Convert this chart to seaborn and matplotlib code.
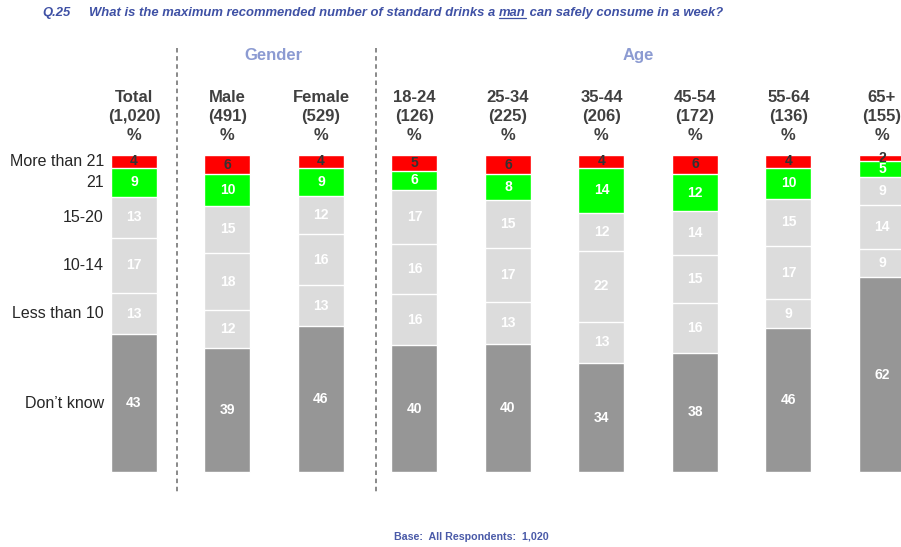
import numpy as np
import pandas as pd
import matplotlib
matplotlib.use("Agg")
import matplotlib.pyplot as plt
import seaborn as sns
from matplotlib.lines import Line2D
import matplotlib.transforms as mtrans

# ---------------- data ----------------
columns = ["Total", "Male", "Female", "18-24", "25-34", "35-44", "45-54", "55-64", "65+"]
bases = ["(1,020)", "(491)", "(529)", "(126)", "(225)", "(206)", "(172)", "(136)", "(155)"]
categories = ["More than 21", "21", "15-20", "10-14", "Less than 10", "Don\u2019t know"]
more_than_21 = [4, 6, 4, 5, 6, 4, 6, 4, 2]
twenty_one = [9, 10, 9, 6, 8, 14, 12, 10, 5]
fifteen_20 = [13, 15, 12, 17, 15, 12, 14, 15, 9]
ten_14 = [17, 18, 16, 16, 17, 22, 15, 17, 14]
less_than_10 = [13, 12, 13, 16, 13, 13, 16, 9, 9]
dont_know = [43, 39, 46, 40, 40, 34, 38, 46, 62]

series = [more_than_21, twenty_one, fifteen_20, ten_14, less_than_10, dont_know]
seg_colors = ["#ff0000", "#00ff00", "#dcdcdc", "#dcdcdc", "#dcdcdc", "#969696"]
txt_colors = ["#333333", "white", "white", "white", "white", "white"]

# ---------------- figure ----------------
W, H = 901, 547
sns.set_theme(style="white")
plt.rcParams["font.family"] = ["Liberation Sans", "DejaVu Sans"]
fig = plt.figure(figsize=(W / 100, H / 100), dpi=100)
fig.patch.set_facecolor("white")

x0_px, step_px = 134.0, 93.5
bar_top_px, bar_bot_px = 155.0, 472.0
ax = fig.add_axes([0, (H - bar_bot_px) / H, 1, (bar_bot_px - bar_top_px) / H])

vals = np.array(series, dtype=float)  # rows = categories (top to bottom)
totals = vals.sum(axis=0)
norm = vals / totals * 100.0
order_bottom_up = list(range(len(categories)))[::-1]
cum = np.zeros(len(columns))
lows, highs = {}, {}
for i in order_bottom_up:
    lows[i] = cum.copy()
    cum = cum + norm[i]
    highs[i] = cum.copy()

bar_w = 46.0 / step_px
for i in range(len(categories)):
    df = pd.DataFrame({"col": columns, "h": highs[i]})
    sns.barplot(data=df, x="col", y="h", order=columns, color=seg_colors[i],
                saturation=1, width=bar_w, edgecolor="white", linewidth=1,
                ax=ax, clip_on=False)
ax.set_xlim(-x0_px / step_px, (W - x0_px) / step_px)
ax.set_ylim(0, 100)
ax.axis("off")

# segment value labels
for i in range(len(categories)):
    for j in range(len(columns)):
        yc = (lows[i][j] + highs[i][j]) / 2
        ax.text(j, yc, f"{series[i][j]}", ha="center", va="center",
                fontsize=10, fontweight="bold", color=txt_colors[i])

# row labels aligned with Total segments
for i, cat in enumerate(categories):
    yc = (lows[i][0] + highs[i][0]) / 2
    ax.text((104 - x0_px) / step_px, yc, cat, ha="right", va="center",
            fontsize=11.5, color="#262626")

# headers
blend = mtrans.blended_transform_factory(ax.transData, fig.transFigure)
for j, (c, b) in enumerate(zip(columns, bases)):
    for line, ypx in zip([c, b, "%"], [98, 117, 136]):
        ax.text(j, 1 - ypx / H, line, transform=blend, ha="center", va="center",
                fontsize=12, fontweight="bold", color="#404040", clip_on=False)

grp_color = "#8c9bd2"
fig.text(273 / W, 1 - 55 / H, "Gender", ha="center", va="center", fontsize=12,
         fontweight="bold", color=grp_color)
fig.text(638 / W, 1 - 55 / H, "Age", ha="center", va="center", fontsize=12,
         fontweight="bold", color=grp_color)

# dashed separators
for xpx in [177, 376]:
    fig.add_artist(Line2D([xpx / W, xpx / W], [1 - 48 / H, 1 - 492 / H],
                          transform=fig.transFigure, color="#808080",
                          linewidth=1.3, linestyle=(0, (2.5, 2))))

# title
title_color = "#3f51a5"
ty = 1 - 13 / H
tkw = dict(fontsize=9.4, fontweight="bold", fontstyle="italic", color=title_color,
           va="center", ha="left")
fig.text(42 / W, ty, "Q.25", **tkw)
fig.canvas.draw()
r = fig.canvas.get_renderer()
t1 = fig.text(89 / W, ty, "What is the maximum recommended number of standard drinks a ", **tkw)
bb1 = t1.get_window_extent(r)
t2 = fig.text(bb1.x1 / W, ty, "man", **tkw)
bb2 = t2.get_window_extent(r)
t3 = fig.text(bb2.x1 / W, ty, " can safely consume in a week?", **tkw)
fig.add_artist(Line2D([bb2.x0 / W, bb2.x1 / W], [(bb2.y0 + 1) / H, (bb2.y0 + 1) / H],
                      transform=fig.transFigure, color=title_color, linewidth=0.9))

# footer
fig.text(471 / W, 1 - 537 / H, "Base:  All Respondents:  1,020", ha="center",
         va="center", fontsize=7.7, fontweight="bold", color="#4a5aa8")

fig.savefig("out.png", dpi=100, facecolor="white")
